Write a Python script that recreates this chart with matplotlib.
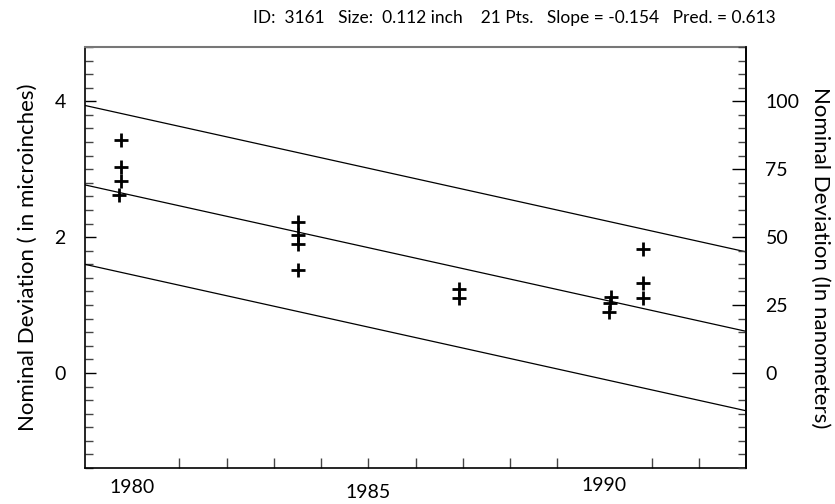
import matplotlib
matplotlib.use("Agg")
import matplotlib.pyplot as plt
import matplotlib.transforms as mtransforms
import numpy as np

plt.rcParams['font.family'] = ['Lato', 'DejaVu Sans']

# ---- data ----
years = [1979.76, 1979.76, 1979.76, 1979.72,
         1983.51, 1983.51, 1983.51, 1983.51,
         1986.93, 1986.93,
         1990.14, 1990.12, 1990.10,
         1990.82, 1990.82, 1990.82]
dev_uin = [3.43, 3.03, 2.82, 2.62,
           2.22, 2.03, 1.90, 1.51,
           1.23, 1.11,
           1.12, 1.03, 0.90,
           1.82, 1.33, 1.11]
slope = -0.154
pred = 0.613
pred_year = 1993
band = 1.17
line_years = [1979, 1993]
x_labels = [1980, 1985, 1990]
left_ticks = [0, 2, 4]
right_ticks = [0, 25, 50, 75, 100]
nm_per_uin = 25
title = "ID:  3161   Size:  0.112 inch    21 Pts.   Slope = -0.154   Pred. = 0.613"

fig = plt.figure(figsize=(8.35, 5.04), dpi=100)
ax = fig.add_axes([85/835, 1-468/504, (746-85)/835, (468-47)/504])
ax.set_xlim(1979, 1993)
ax.set_ylim(-1.4, 4.8)

lx = np.array(line_years, dtype=float)
mid = pred + slope * (lx - pred_year)
for off in (band, 0, -band):
    ax.plot(lx, mid + off, color='black', lw=0.9)

ax.plot(years, dev_uin, linestyle='none', marker='+', ms=10, mew=2.0, color='black')

# spines
for s in ('left', 'bottom', 'right'):
    ax.spines[s].set_color('black')
    ax.spines[s].set_linewidth(1.2)
ax.spines['top'].set_color('#777777')
ax.spines['top'].set_linewidth(1.5)

# x ticks
xt = [y for y in range(1981, 1993) if y not in (1990,)]
ax.set_xticks(xt)
ax.set_xticklabels([])
ax.tick_params(axis='x', direction='in', length=7, width=1.0, color='#444444', top=False)
trans = mtransforms.blended_transform_factory(ax.transData, ax.transAxes)
label_dy = {1980: -0.047, 1985: -0.058, 1990: -0.042}
for yr in x_labels:
    ax.text(yr, label_dy[yr], str(yr), transform=trans, ha='center', va='center',
            fontsize=14)

# left y
ax.set_yticks(left_ticks)
ax.set_yticks(np.arange(-1.4, 4.81, 0.2), minor=True)
ax.set_yticklabels([str(t) for t in left_ticks], fontsize=14)
ax.tick_params(axis='y', which='major', direction='in', length=8, width=1.0, pad=14, right=False)
ax.tick_params(axis='y', which='minor', direction='in', length=6, width=1.0, color='#444444', right=False)
ax.set_ylabel("Nominal Deviation ( in microinches)", fontsize=16, labelpad=12)

# right y
ax2 = ax.twinx()
ax2.set_ylim(-1.4 * nm_per_uin, 4.8 * nm_per_uin)
ax2.set_yticks(right_ticks)
ax2.set_yticks(np.arange(-35, 120.1, 5), minor=True)
ax2.set_yticklabels([str(t) for t in right_ticks], fontsize=14)
ax2.tick_params(axis='y', which='major', direction='in', length=10, width=1.0, pad=14)
ax2.tick_params(axis='y', which='minor', direction='in', length=6, width=1.0, color='#444444')
ax2.set_ylabel("Nominal Deviation (In nanometers)", fontsize=16, rotation=270, labelpad=22)
for s in ('left', 'bottom', 'top'):
    ax2.spines[s].set_visible(False)
ax2.spines['right'].set_color('black')
ax2.spines['right'].set_linewidth(1.2)

fig.text(514/835, 1-18/504, title, ha='center', va='center', fontsize=12.5)

fig.savefig("out.png", dpi=100)
